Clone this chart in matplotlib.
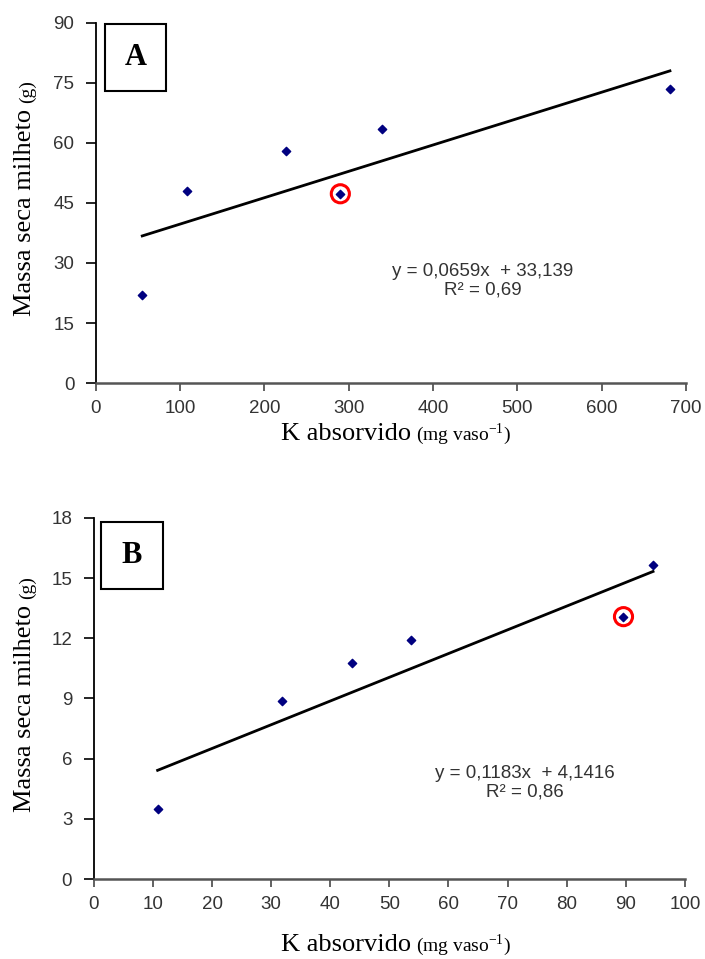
import matplotlib
matplotlib.use('Agg')
import matplotlib.pyplot as plt
from matplotlib.patches import Rectangle

plt.rcParams['mathtext.fontset'] = 'custom'
plt.rcParams['mathtext.rm'] = 'Liberation Serif'

# dados painel A
k_a = [55, 108, 225, 290, 339, 681]
massa_a = [22.0, 48.0, 58.0, 47.3, 63.4, 73.6]
coef_a = (0.0659, 33.139)
eq_a = ['y = 0,0659x  + 33,139', 'R² = 0,69']
destaque_a = [3]

# dados painel B
k_b = [10.8, 31.8, 43.7, 53.6, 89.6, 94.6]
massa_b = [3.48, 8.85, 10.77, 11.93, 13.08, 15.65]
coef_b = (0.1183, 4.1416)
eq_b = ['y = 0,1183x  + 4,1416', 'R² = 0,86']
destaque_b = [4]

fig = plt.figure(figsize=(7.05, 9.59), dpi=100)
ax_a = fig.add_axes([0.136, 0.6006, 0.837, 0.3755])
ax_b = fig.add_axes([0.133, 0.0834, 0.8386, 0.3765])


def painel(ax, x, y, coef, eq, destaque, xlim, ylim, xticks, yticks, letra, caixa, eqpos):
    ax.scatter(x, y, marker='D', s=18, color='#000080', zorder=3)
    xs = [min(x), max(x)]
    ax.plot(xs, [coef[0] * v + coef[1] for v in xs], color='black', lw=2, zorder=2)
    ax.scatter([x[i] for i in destaque], [y[i] for i in destaque], s=170,
               facecolors='none', edgecolors='red', linewidths=2.2, zorder=4)
    ax.set_xlim(*xlim)
    ax.set_ylim(*ylim)
    ax.set_xticks(xticks)
    ax.set_yticks(yticks)
    for s in ['top', 'right']:
        ax.spines[s].set_visible(False)
    ax.spines['left'].set_linewidth(1.3)
    ax.spines['bottom'].set_linewidth(1.8)
    ax.spines['bottom'].set_color('#555555')
    ax.tick_params(axis='y', direction='out', length=7, width=1.2, pad=8.5)
    ax.tick_params(axis='x', direction='out', length=6, width=1.3, pad=6, color='#555555')
    for lab in ax.get_xticklabels() + ax.get_yticklabels():
        lab.set_fontfamily('Liberation Sans')
        lab.set_fontsize(13.5)
        lab.set_color('#333333')
    ax.text(eqpos[0], eqpos[1], eq[0] + '\n' + eq[1], ha='center', va='center',
            family='Liberation Sans', size=13.5, color='#333333', linespacing=1.1)
    ax.add_patch(Rectangle((caixa[0], caixa[1]), caixa[2], caixa[3], transform=ax.transAxes,
                           fill=False, lw=1.5, edgecolor='black', clip_on=False))
    ax.text(caixa[0] + caixa[2] / 2, caixa[1] + caixa[3] / 2, letra, transform=ax.transAxes,
            ha='center', va='center', family='Liberation Serif', weight='bold', size=22)


painel(ax_a, k_a, massa_a, coef_a, eq_a, destaque_a, (0, 700), (0, 90),
       range(0, 701, 100), range(0, 91, 15), 'A', (0.0153, 0.811, 0.1034, 0.186), (459, 25.5))
painel(ax_b, k_b, massa_b, coef_b, eq_b, destaque_b, (0, 100), (0, 18),
       range(0, 101, 10), range(0, 19, 3), 'B', (0.0118, 0.803, 0.105, 0.186), (73, 4.8))

# rótulos com dois tamanhos de fonte
fig.canvas.draw()
r = fig.canvas.get_renderer()


def rotulo_y(ycentro_px):
    x_px = 25
    t1 = fig.text(x_px / 705, 0, 'Massa seca milheto', rotation=90, ha='center', va='bottom',
                  family='Liberation Serif', size=19)
    t2 = fig.text(x_px / 705, 0, '(g)', rotation=90, ha='center', va='bottom',
                  family='Liberation Serif', size=14)
    h1 = t1.get_window_extent(r).height
    h2 = t2.get_window_extent(r).height
    y0 = ycentro_px - (h1 + 6 + h2) / 2
    t1.set_position((x_px / 705, y0 / 959))
    t2.set_position(((x_px + 2) / 705, (y0 + h1 + 6) / 959))


def rotulo_x(xcentro_px, ybase_px):
    t1 = fig.text(0, ybase_px / 959, 'K absorvido', ha='left', va='baseline',
                  family='Liberation Serif', size=19)
    t2 = fig.text(0, ybase_px / 959, r'(mg vaso$^{\mathregular{-1}}$)', ha='left', va='baseline',
                  family='Liberation Serif', size=14)
    w1 = t1.get_window_extent(r).width
    w2 = t2.get_window_extent(r).width
    x0 = xcentro_px - (w1 + 5 + w2) / 2
    t1.set_position((x0 / 705, ybase_px / 959))
    t2.set_position(((x0 + w1 + 5) / 705, ybase_px / 959))


rotulo_y(959 - 198)
rotulo_y(959 - 694)
rotulo_x(396, 959 - 440)
rotulo_x(396, 959 - 951)

fig.savefig('out.png', dpi=100)
